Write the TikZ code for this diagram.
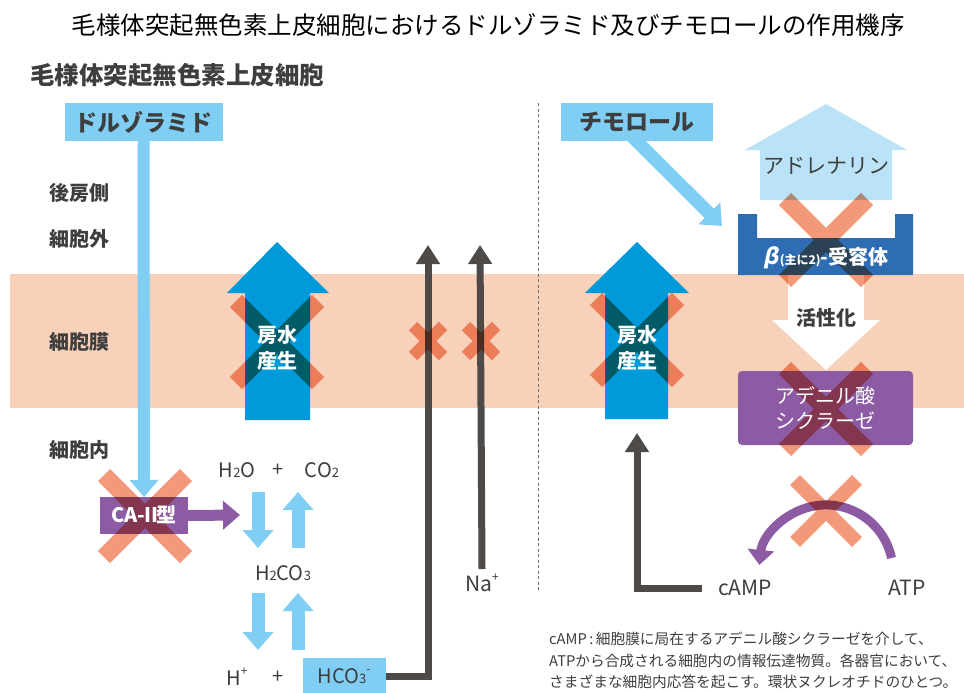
\documentclass[tikz,border=0pt]{standalone}
\usepackage{fontspec}
\setmainfont{Noto Sans CJK JP}
\newfontfamily\slfont[FakeSlant=0.2]{Noto Sans CJK JP}
\usetikzlibrary{arrows.meta}
\definecolor{peach}{HTML}{F8D1BA}
\definecolor{lblue}{HTML}{80CEF3}
\definecolor{bigblue}{HTML}{0099D9}
\definecolor{recblue}{HTML}{2E6DB4}
\definecolor{adrblue}{HTML}{BBE3F8}
\definecolor{purp}{HTML}{8C5BA4}
\definecolor{dgray}{HTML}{4E4A48}
\definecolor{txt}{HTML}{3E3E3E}
\definecolor{xorange}{HTML}{F2997A}
\newcommand\fs[1]{\fontsize{#1}{#1}\selectfont}
\newcommand\lsub[1]{{\fs{13}#1}}
\newcommand\lsup[1]{\raisebox{0.5em}{\fs{12}#1}}
\newcommand\crossmark[4]{%
  \draw[xline, line width=#4] (#1-#3,#2-#3) -- (#1+#3,#2+#3) (#1+#3,#2-#3) -- (#1-#3,#2+#3);}
\begin{document}
\begin{tikzpicture}[x=1pt,y=-1pt,
  lbl/.style={inner sep=0, text=txt, font=\fs{20}\bfseries},
  chem/.style={inner sep=0, text=txt, font=\fs{20}},
  wtxt/.style={inner sep=0, text=white, font=\fontsize{20}{26}\selectfont\bfseries, align=center},
  ttlbox/.style={fill=lblue, inner sep=0, text=txt, font=\fs{23}\bfseries},
  grayln/.style={draw=dgray, line width=7pt, -{Triangle[width=23pt,length=19pt]}},
  lbarrow/.style={draw=lblue, line width=13pt, -{Triangle[width=30pt,length=18pt]}},
  parrow/.style={draw=purp, line width=11pt, -{Triangle[width=28pt,length=17pt]}},
  xline/.style={draw=xorange, line cap=butt, blend mode=multiply},
]
\useasboundingbox (0,0) rectangle (964,693);
\fill[white] (0,0) rectangle (964,693);

% membrane band
\fill[peach] (10,274) rectangle (964,408);
% dashed divider
\draw[dgray!80, line width=0.7pt, dash pattern=on 3pt off 2.5pt] (538,103) -- (538,592);

% big blue arrows (aqueous humor production)
\fill[bigblue] (245,420) -- (245,293) -- (227,293) -- (277,242) -- (329,293) -- (310,293) -- (310,420) -- cycle;
\fill[bigblue] (605,419) -- (605,293) -- (585,293) -- (637,242) -- (689,293) -- (668,293) -- (668,419) -- cycle;

% adrenaline house arrow
\fill[adrblue] (760,200) -- (760,150) -- (745,150) -- (826,104) -- (907,150) -- (892,150) -- (892,200) -- cycle;
% beta receptor
\fill[recblue] (738,214) -- (757,214) -- (757,238) -- (895,238) -- (895,214) -- (913,214) -- (913,275) -- (738,275) -- cycle;
% activation white arrow
\fill[white] (788,275) -- (788,320) -- (772,320) -- (826,370) -- (880,320) -- (864,320) -- (864,275) -- cycle;

% coordinates
\coordinate (caend) at (240,515);
\coordinate (d1s) at (258,492); \coordinate (d1e) at (258,548);
\coordinate (u1s) at (298,548); \coordinate (u1e) at (298,492);
\coordinate (d2s) at (258,593); \coordinate (d2e) at (258,650);
\coordinate (u2s) at (298,650); \coordinate (u2e) at (298,593);
\coordinate (g1) at (428,245);
\coordinate (g2) at (480,245);
\coordinate (g3) at (637,433);
\coordinate (tmend) at (722,226);
\coordinate (atpstart) at (891.5,558);

% text nodes
\node[text=black, inner sep=0, font=\fs{24.5}] (title) at (488,25) {毛様体突起無色素上皮細胞におけるドルゾラミド及びチモロールの作用機序};
\node[anchor=west, inner sep=0, text=txt, font=\fs{24.5}\bfseries] (subt) at (30,75) {毛様体突起無色素上皮細胞};
\node[lbl] (l1) at (79,193) {後房側};
\node[lbl] (l2) at (79,239) {細胞外};
\node[lbl] (l3) at (79,342) {細胞膜};
\node[lbl] (l4) at (79,450) {細胞内};

\node[chem] (h2o) at (237,470) {H\lsub{2}O};
\node[chem] (plus1) at (278,470) {+};
\node[chem] (co2) at (322,470) {CO\lsub{2}};
\node[chem] (h2co3) at (283,573) {H\lsub{2}CO\lsub{3}};
\node[chem] (hp) at (237,677) {H\lsup{+}};
\node[chem] (plus2) at (278,677) {+};
\node[chem, font=\fs{21}] (na) at (482,583) {Na\lsup{+}};
\node[chem, font=\fs{21}] (camp) at (745,588) {cAMP};
\node[chem, font=\fs{21}] (atp) at (907,588) {ATP};
\node[chem, text=txt, font=\fs{21}] (adr) at (826,166) {アドレナリン};
\node[chem, text=txt, font=\fs{20}\bfseries] (act) at (826,318) {活性化};

% connectors (drawn below boxes)
\draw[lbarrow, line width=12pt, -{Triangle[width=28pt,length=17pt]}] (143.5,141) -- (144,497);
\draw[lbarrow] ([shift={(-8,-8)}]636.5,141) -- (tmend);
\draw[grayln] (385,676) -| (g1);
\draw[grayln] ([yshift=14pt]na.center) -- (g2);
\draw[grayln] ([xshift=-16pt]camp.west) -| (g3);

% boxes
\node[ttlbox, minimum width=158pt, minimum height=38pt] (dz) at (143.5,122) {ドルゾラミド};
\node[ttlbox, minimum width=152pt, minimum height=38pt] (tm) at (636.5,122) {チモロール};
\node[fill=purp, inner sep=0, minimum width=88pt, minimum height=37pt] (ca) at (144,515.5) {};
\node[fill=purp, inner sep=0, rounded corners=4pt, minimum width=175pt, minimum height=74pt] (ac) at (825.5,408) {};
\node[fill=lblue, inner sep=0, text=txt, font=\fs{20}, minimum width=83pt, minimum height=36pt] (hco) at (344,676) {HCO\lsub{3}\lsup{-}};

% arrows between nodes
\draw[parrow] (ca.east) -- (caend);
\draw[lbarrow] (d1s) -- (d1e);
\draw[lbarrow] (u1s) -- (u1e);
\draw[lbarrow] (d2s) -- (d2e);
\draw[lbarrow] (u2s) -- (u2e);
\draw[draw=purp, line width=9pt, -{Triangle[width=26pt,length=15pt]}] (atpstart) arc[start angle=-12, end angle=-174, radius=67];

% inhibition crosses (multiply blend)
\crossmark{145}{516}{41}{17}
\crossmark{277}{342}{41}{17}
\crossmark{637}{340}{41}{17}
\crossmark{428}{341}{15}{12}
\crossmark{481}{341}{15}{12}
\crossmark{826}{240}{41}{17}
\crossmark{826}{409}{41}{17}
\crossmark{826}{511}{31}{14}

% white texts on top
\node[wtxt] (cat) at (144,515) {CA-\kern-0.22emⅡ\kern-0.22em型};
\node[wtxt] (hs1) at (277,348) {房水\\産生};
\node[wtxt] (hs2) at (637,348) {房水\\産生};
\node[wtxt, font=\fs{20}\bfseries] (rec) at (826,258) {{\slfont\fs{22}β}\kern1pt{\fs{12}(主に2)}-受容体};
\node[wtxt, font=\fontsize{20}{25}\selectfont] (act2) at (ac) {アデニル酸\\シクラーゼ};

% note
\node[anchor=north west, align=left, inner sep=0, text=txt, font=\fontsize{14.7}{21.5}\selectfont] (note) at (549,632) {cAMP\,:\,細胞膜に局在するアデニル酸シクラーゼを介して、\\ATPから合成される細胞内の情報伝達物質。各器官において、\\さまざまな細胞内応答を起こす。環状ヌクレオチドのひとつ。};
\end{tikzpicture}
\end{document}
